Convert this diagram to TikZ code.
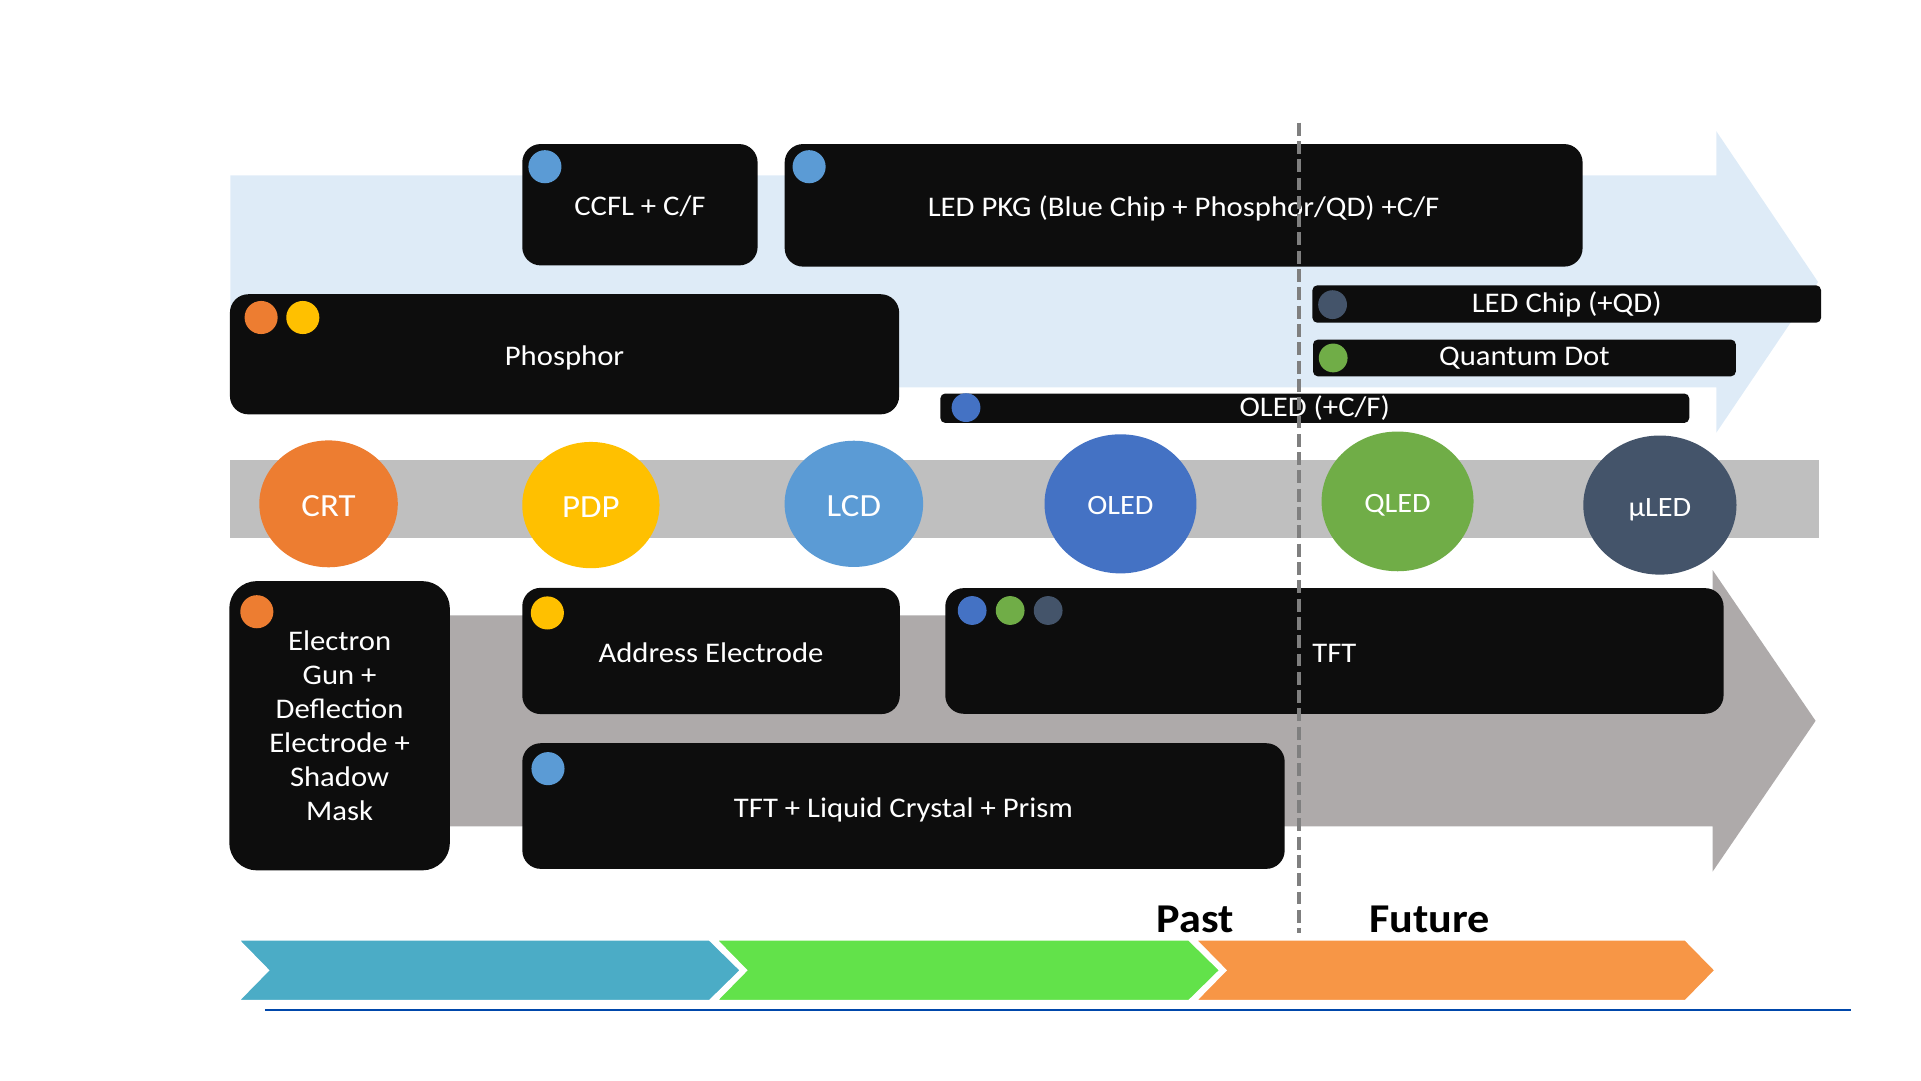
\documentclass[tikz,border=0pt]{standalone}
\usepackage{fontspec}
\setmainfont{Carlito}[FakeStretch=1.08]
\usetikzlibrary{shapes.geometric}

\definecolor{lightarrow}{HTML}{DEEBF7}
\definecolor{bandgray}{HTML}{BFBFBF}
\definecolor{lowgray}{HTML}{AEAAAA}
\definecolor{boxblack}{HTML}{0D0D0D}
\definecolor{crtorange}{HTML}{ED7D31}
\definecolor{pdpyellow}{HTML}{FFC000}
\definecolor{lcdblue}{HTML}{5B9BD5}
\definecolor{oledblue}{HTML}{4472C4}
\definecolor{qledgreen}{HTML}{70AD47}
\definecolor{uledslate}{HTML}{44546A}
\definecolor{tealchev}{HTML}{4BACC6}
\definecolor{greenchev}{HTML}{62E24A}
\definecolor{orangechev}{HTML}{F79646}
\definecolor{lineblue}{HTML}{0047AB}
\definecolor{dashgray}{HTML}{7F7F7F}

\begin{document}
\begin{tikzpicture}[x=0.02cm, y=-0.02cm,
    blackbox/.style={fill=boxblack, rounded corners=0.3cm, text=white, inner sep=0pt, outer sep=0pt, font=\fontsize{13.2}{15.7}\selectfont},
    bigbox/.style={blackbox, text height=13pt, text depth=2.6pt},
    thinbar/.style={blackbox, rounded corners=0.08cm},
    techdot/.style={circle, inner sep=0pt, minimum size=0.54cm},
    smalldot/.style={circle, inner sep=0pt, minimum size=0.47cm},
    tech/.style={ellipse, inner sep=0pt, text=white, text height=14.8pt, text depth=3pt, font=\fontsize{15}{18}\selectfont},
    techsmall/.style={tech, text height=12.8pt, text depth=2.6pt, font=\fontsize{13}{16}\selectfont},
    chevshape/.style={draw=white, line width=1.5pt}]
    \useasboundingbox (0, 0) rectangle (1567, 881);

    \fill[lightarrow] (188, 143) -- (1400, 143) -- (1400, 107) -- (1483, 230) -- (1400, 353) -- (1400, 316) -- (188, 316) -- cycle;
    \fill[bandgray] (188, 375) rectangle (1484, 439);
    \fill[lowgray] (188, 502) -- (1397, 502) -- (1397, 465) -- (1481, 588) -- (1397, 711) -- (1397, 674) -- (188, 674) -- cycle;

    \node[bigbox, minimum width=3.84cm, minimum height=1.98cm] (ccfl) at (522, 167) {CCFL + C/F};
    \node[bigbox, minimum width=13.02cm, minimum height=2cm] (ledpkg) at (965.5, 167.5) {LED PKG (Blue Chip + Phosphor/QD) +C/F};
    \node[bigbox, minimum width=10.92cm, minimum height=1.96cm] (phosphor) at (460.5, 289) {Phosphor};
    \node[thinbar, minimum width=8.3cm, minimum height=0.61cm] (ledchip) at (1278, 248) {LED Chip (+QD)};
    \node[thinbar, minimum width=6.9cm, minimum height=0.6cm] (qdot) at (1243.5, 292) {Quantum Dot};
    \node[thinbar, minimum width=12.22cm, minimum height=0.48cm] (oledbar) at (1072.5, 333) {OLED (+C/F)};

    \node[tech, fill=crtorange, minimum width=2.26cm, minimum height=2.07cm] (crt) at (268, 411) {CRT};
    \node[tech, fill=pdpyellow, minimum width=2.24cm, minimum height=2.06cm] (pdp) at (482, 412) {PDP};
    \node[tech, fill=lcdblue, minimum width=2.26cm, minimum height=2.06cm] (lcd) at (696.5, 411) {LCD};
    \node[techsmall, fill=oledblue, minimum width=2.48cm, minimum height=2.27cm] (oled) at (914, 411) {OLED};
    \node[techsmall, fill=qledgreen, minimum width=2.48cm, minimum height=2.28cm] (qled) at (1140, 409) {QLED};
    \node[techsmall, fill=uledslate, minimum width=2.5cm, minimum height=2.27cm] (uled) at (1354, 412) {µLED};

    \node[blackbox, rounded corners=0.45cm, align=center, minimum width=3.6cm, minimum height=4.72cm] (egun) at (277, 592) {Electron\\Gun +\\Deflection\\Electrode +\\Shadow\\Mask};
    \node[bigbox, minimum width=6.16cm, minimum height=2.06cm] (addr) at (580, 531) {Address Electrode};
    \node[bigbox, minimum width=12.7cm, minimum height=2.05cm] (tft) at (1088.5, 531) {TFT};
    \node[bigbox, minimum width=12.44cm, minimum height=2.05cm] (tftlc) at (737, 657.5) {TFT + Liquid Crystal + Prism};

    \node[techdot, fill=lcdblue] (ccfldot) at (444.5, 136) {};
    \node[techdot, fill=lcdblue] (ledpkgdot) at (660, 136) {};
    \node[techdot, fill=crtorange] (phosdota) at (213, 259) {};
    \node[techdot, fill=pdpyellow] (phosdotb) at (247, 259) {};
    \node[smalldot, fill=uledslate] (chipdot) at (1087, 248.5) {};
    \node[smalldot, fill=qledgreen] (qddot) at (1087.5, 292) {};
    \node[smalldot, fill=oledblue] (oleddot) at (788, 332.5) {};
    \node[techdot, fill=crtorange] (egundot) at (209.5, 499) {};
    \node[techdot, fill=pdpyellow] (addrdot) at (446.5, 500) {};
    \node[smalldot, fill=oledblue] (tftdota) at (793, 498) {};
    \node[smalldot, fill=qledgreen] (tftdotb) at (824, 498) {};
    \node[smalldot, fill=uledslate] (tftdotc) at (855, 498) {};
    \node[techdot, fill=lcdblue] (tftlcdot) at (447, 627) {};

    \filldraw[tealchev, chevshape] (193, 766) -- (579, 766) -- (605, 791.5) -- (579, 817) -- (193, 817) -- (218, 791.5) -- cycle;
    \filldraw[greenchev, chevshape] (583, 766) -- (970, 766) -- (996, 791.5) -- (970, 817) -- (583, 817) -- (608, 791.5) -- cycle;
    \filldraw[orangechev, chevshape] (974, 766) -- (1375, 766) -- (1400, 791.5) -- (1375, 817) -- (974, 817) -- (999, 791.5) -- cycle;

    \node[font=\bfseries\fontsize{19}{22}\selectfont] (past) at (975, 750) {Past};
    \node[font=\bfseries\fontsize{19}{22}\selectfont] (future) at (1166, 750) {Future};

    \coordinate (basel) at (216, 823.5);
    \coordinate (baser) at (1510, 823.5);
    \draw[lineblue, line width=0.9pt] (basel) -- (baser);

    \coordinate (divtop) at (1059.5, 100);
    \coordinate (divbot) at (1059.5, 761);
    \draw[dashgray, line width=2pt, dash pattern=on 6pt off 2.5pt] (divtop) -- (divbot);
\end{tikzpicture}
\end{document}
